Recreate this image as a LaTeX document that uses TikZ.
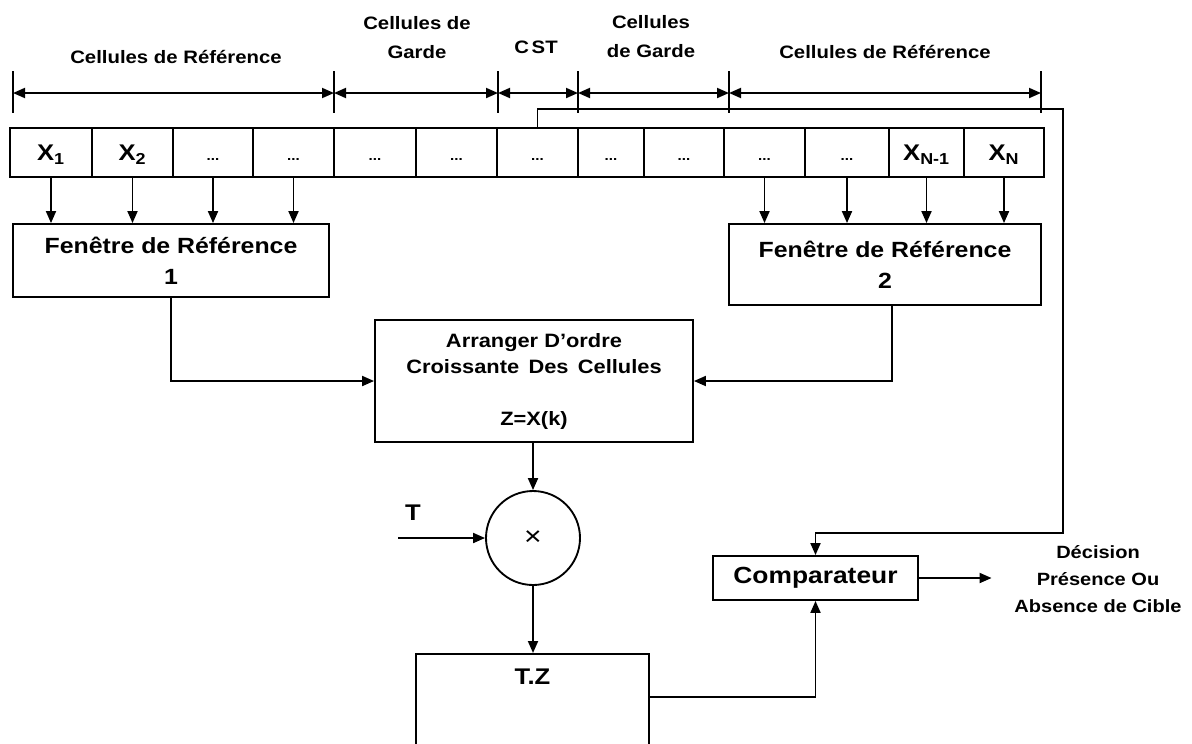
\documentclass[tikz,border=0pt]{standalone}
\usepackage{fontspec}
\setmainfont{Liberation Sans}[FakeStretch=1.13]
\usetikzlibrary{arrows.meta}

\begin{document}
\begin{tikzpicture}[x=0.75pt,y=0.75pt,yscale=-1,xscale=1,
  >={Triangle[length=9pt,width=7.5pt]},
  lw/.style={line width=1.4pt},
  arr/.style={lw,->},
  dim/.style={lw,<->},
  cellbox/.style={draw,lw,inner sep=0pt,minimum height=36.75pt,text height=12.5pt,text depth=0pt,font=\bfseries\fontsize{17}{20}\selectfont},
  block/.style={draw,lw,inner sep=0pt,align=center,font=\bfseries\fontsize{16.5}{23}\selectfont},
  lab/.style={align=center,inner sep=0pt,font=\bfseries\fontsize{13.5}{21.75}\selectfont}]
\clip (0,0) rectangle (1192,743);

% Cells
\foreach \l/\r/\lab [count=\i] in {10/92/{X\textsubscript{1}},92/173/{X\textsubscript{2}},173/253/{\fontsize{10}{12}\selectfont...},253/334/{\fontsize{10}{12}\selectfont...},334/416/{\fontsize{10}{12}\selectfont...},416/497/{\fontsize{10}{12}\selectfont...},497/578/{\fontsize{10}{12}\selectfont...},578/644/{\fontsize{10}{12}\selectfont...},644/724/{\fontsize{10}{12}\selectfont...},724/805/{\fontsize{10}{12}\selectfont...},805/889/{\fontsize{10}{12}\selectfont...},889/964/{X\textsubscript{N-1}},964/1044/{X\textsubscript{N}}}
  \node[cellbox,minimum width={(\r-\l)*0.75pt}] (cell\i) at ({(\l+\r)/2},152.5) {\lab};

% Text Node
\node[lab] (ref1) at (176,57) {Cellules de Référence};
% Text Node
\node[lab] (gar1) at (417,38) {Cellules de\\Garde};
% Text Node
\node[lab] (cst) at (536,47) {C\kern2pt ST};
% Text Node
\node[lab] (gar2) at (651,37) {Cellules\\de Garde};
% Text Node
\node[lab] (ref2) at (885,52) {Cellules de Référence};

%Straight Lines
\coordinate (d0) at (13,93);
\coordinate (d1) at (334,93);
\coordinate (d2) at (498,93);
\coordinate (d3) at (578,93);
\coordinate (d4) at (729,93);
\coordinate (d5) at (1041,93);
\foreach \k in {0,...,5}
  \draw[lw] ([yshift=-16.5pt]d\k) -- ([yshift=15pt]d\k);
\foreach \a/\b in {0/1,1/2,2/3,3/4,4/5}
  \draw[dim] (d\a) -- (d\b);

% Blocks
\node[block,minimum width=237pt,minimum height=54.75pt] (fen1) at (171,260.5) {Fenêtre de Référence\\1};
\node[block,minimum width=234pt,minimum height=60.75pt] (fen2) at (885,264.5) {Fenêtre de Référence\\2};
\node[block,minimum width=238.5pt,minimum height=91.5pt,font=\bfseries\fontsize{14.5}{19.5}\selectfont] (tri) at (534,381) {Arranger D’ordre\\Croissante\ \,Des\ \,Cellules\\[19.5pt]Z=X(k)};
\node[draw,lw,circle,minimum size=70.5pt,inner sep=0pt,font=\mdseries\fontsize{20}{20}\selectfont] (mul) at (533,538) {×};
\node[block,minimum width=174.75pt,minimum height=100pt,anchor=north] (tz) at (532.5,653) {};
\node[font=\bfseries\fontsize{17}{20}\selectfont] (tzl) at (532.5,677) {T.Z};
\node[block,minimum width=153.75pt,minimum height=33pt,font=\bfseries\fontsize{17.5}{20}\selectfont] (cmp) at (815.5,578) {Comparateur};
\node[lab,inner xsep=17pt,font=\bfseries\fontsize{13.3}{20}\selectfont] (dec) at (1098,579) {Décision\\Présence Ou\\Absence de Cible};
% Text Node
\node[font=\bfseries\fontsize{17}{20}\selectfont] (tlab) at (413,513) {T};
\coordinate (tin) at (398,538);

%Straight Lines
\foreach \i in {1,...,4}
  \draw[arr] (cell\i.south) -- (cell\i.south |- fen1.north);
\foreach \i in {10,...,13}
  \draw[arr] (cell\i.south) -- (cell\i.south |- fen2.north);
\draw[arr] (fen1.south) |- (tri.west);
\draw[arr] ([xshift=5pt]fen2.south) |- (tri.east);
\draw[arr] (mul.north |- tri.south) -- (mul.north);
\draw[arr] (tin) -- (mul.west);
\draw[arr] (mul.south) -- (mul.south |- tz.north);
\draw[arr] ([yshift=33pt]tz.north east) -| (cmp.south);
\coordinate (w1) at (1063,109);
\coordinate (w2) at (1063,533);
\draw[arr] (cell7.north) |- (w1) -- (w2) -| (cmp.north);
\draw[arr] (cmp.east) -- (cmp.east -| dec.west);

\end{tikzpicture}
\end{document}
